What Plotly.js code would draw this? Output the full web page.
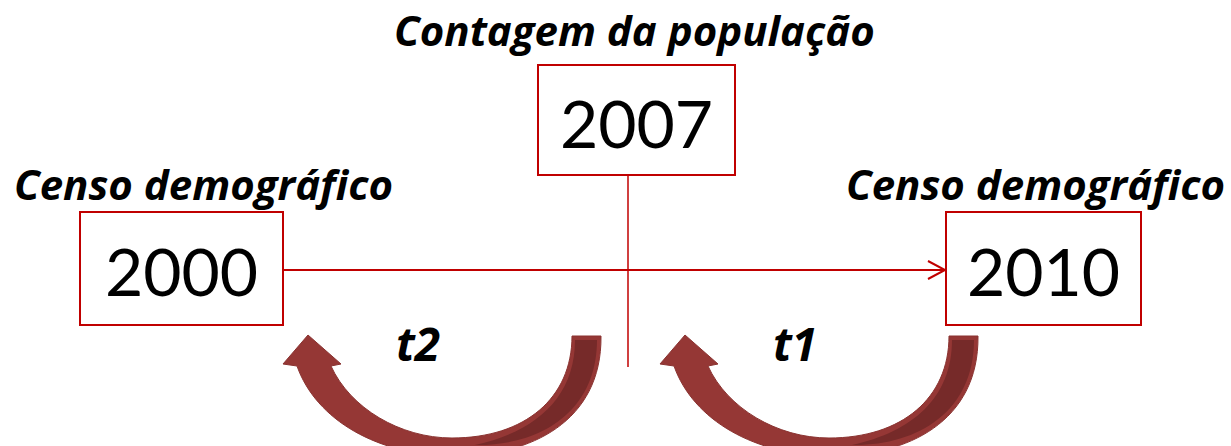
<!DOCTYPE html>
<html>
<head>
<meta charset="utf-8">
<script src="https://cdn.plot.ly/plotly-3.0.1.min.js"></script>
<style>html,body{margin:0;padding:0;background:#fff;}#chart{width:1231px;height:446px;}</style>
</head>
<body>
<div id="chart"></div>
<script>
// ---- data ----
const years = ["2000", "2007", "2010"];
const eventLabels = ["Censo demográfico", "Contagem da população", "Censo demográfico"];
const intervalLabels = ["t2", "t1"];

// ---- layout (pixel space) ----
const W = 1231, H = 446;
const boxes = [
  {x0: 80, x1: 283, y0: 212, y1: 325},
  {x0: 538, x1: 735, y0: 65, y1: 175},
  {x0: 946, x1: 1141, y0: 212, y1: 325}
];
const labelPos = [{x: 203, y: 183}, {x: 634, y: 29}, {x: 1035, y: 183}];
const red = "#c00000";
const arrowMain = "#953735";
const arrowDark = "#762a29";
const labelFont = "'Open Sans', Lato, sans-serif";

const shapes = [];
const annotations = [];

boxes.forEach((b, i) => {
  shapes.push({type: "rect", xref: "x", yref: "y", x0: b.x0, x1: b.x1, y0: b.y0, y1: b.y1,
    line: {color: red, width: 2}, fillcolor: "rgba(0,0,0,0)"});
  annotations.push({xref: "x", yref: "y", x: (b.x0 + b.x1) / 2, y: (b.y0 + b.y1) / 2 + 2,
    text: years[i], showarrow: false,
    font: {family: "Lato, 'Open Sans', sans-serif", size: 66, color: "#000"}});
  annotations.push({xref: "x", yref: "y", x: labelPos[i].x, y: labelPos[i].y,
    text: "<b><i>" + eventLabels[i] + "</i></b>", showarrow: false,
    font: {family: labelFont, size: 42, color: "#000"}});
});

// timeline
shapes.push({type: "line", xref: "x", yref: "y", x0: 283, x1: 945, y0: 270, y1: 270, line: {color: red, width: 2}});
shapes.push({type: "path", xref: "x", yref: "y", path: "M 928 261 L 945 270 L 928 279", line: {color: red, width: 2}});
shapes.push({type: "line", xref: "x", yref: "y", x0: 628, x1: 628, y0: 175, y1: 367, line: {color: red, width: 1.5}});

// curved arrows
function arrowPath(dx) {
  const p = (x, y) => (x + dx) + " " + y;
  return "M " + p(601, 336) +
    " C " + p(602, 422) + ", " + p(530, 456) + ", " + p(455, 456) +
    " C " + p(378, 456) + ", " + p(316, 420) + ", " + p(297, 366) +
    " L " + p(283, 364) + " L " + p(308, 335) + " L " + p(341, 364) + " L " + p(331, 366) +
    " C " + p(350, 408) + ", " + p(400, 438) + ", " + p(452, 438) +
    " C " + p(525, 438) + ", " + p(572, 398) + ", " + p(572, 336) + " Z";
}
function darkPath(dx) {
  const p = (x, y) => (x + dx) + " " + y;
  return "M " + p(575, 340) + " L " + p(597, 340) +
    " C " + p(597, 412) + ", " + p(540, 446) + ", " + p(475, 445) +
    " C " + p(535, 432) + ", " + p(575, 398) + ", " + p(575, 340) + " Z";
}
[0, 377].forEach((dx, i) => {
  shapes.push({type: "path", xref: "x", yref: "y", path: arrowPath(dx), fillcolor: arrowMain, line: {color: "#8a3331", width: 1}});
  shapes.push({type: "path", xref: "x", yref: "y", path: darkPath(dx), fillcolor: arrowDark, line: {width: 0}});
  annotations.push({xref: "x", yref: "y", x: 418 + dx, y: 343, text: "<b><i>" + intervalLabels[i] + "</i></b>",
    showarrow: false, font: {family: labelFont, size: 46, color: "#000"}});
});

const layout = {
  width: W, height: H,
  margin: {l: 0, r: 0, t: 0, b: 0},
  paper_bgcolor: "#fff", plot_bgcolor: "#fff",
  xaxis: {range: [0, W], visible: false, fixedrange: true},
  yaxis: {range: [H, 0], visible: false, fixedrange: true},
  shapes: shapes, annotations: annotations, showlegend: false
};
Plotly.newPlot("chart", [{x: [], y: [], type: "scatter"}], layout, {displayModeBar: false, staticPlot: true});
</script>
</body>
</html>
